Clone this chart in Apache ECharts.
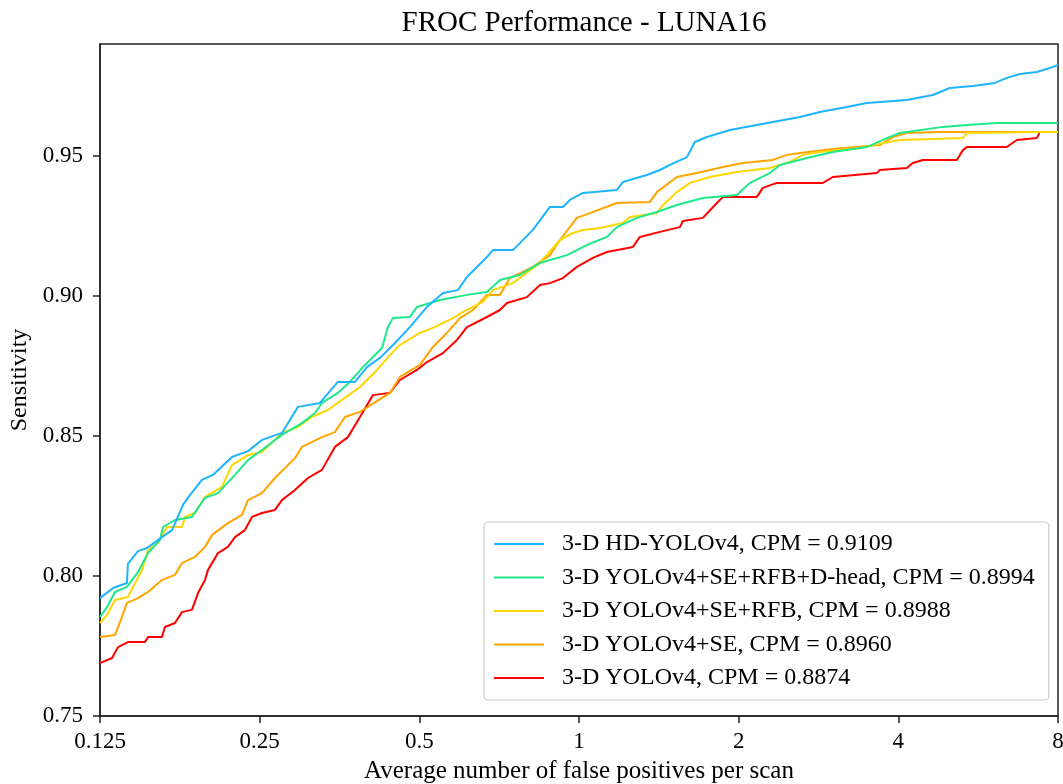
<!DOCTYPE html>
<html lang="en">
<head>
    <meta charset="UTF-8">
    <title>FROC Performance - LUNA16</title>
    <script src="https://cdn.jsdelivr.net/npm/echarts@6/dist/echarts.min.js"></script>
    <style>
        html, body { margin: 0; padding: 0; background: #fff; }
    </style>
</head>
<body>
    <div id="froc" style="width:1063px;height:784px;"></div>
<script>
    // x ticks (log2 axis) and y ticks
    var xTicks = [0.125, 0.25, 0.5, 1, 2, 4, 8];
    var yTicks = [0.75, 0.80, 0.85, 0.90, 0.95];

    var seriesNames = [
        '3-D HD-YOLOv4, CPM = 0.9109',
        '3-D YOLOv4+SE+RFB+D-head, CPM = 0.8994',
        '3-D YOLOv4+SE+RFB, CPM = 0.8988',
        '3-D YOLOv4+SE, CPM = 0.8960',
        '3-D YOLOv4, CPM = 0.8874'
    ];
    var seriesColors = ['#1eb4ff', '#1ee88c', '#ffd700', '#ffa500', '#ff0000'];

    // [false positives per scan, sensitivity]
    var hdYolo = [
        [0.125,0.7921],[0.1323,0.7957],[0.1405,0.7975],[0.1411,0.8043],[0.1474,0.8089],[0.1533,0.8100],
        [0.1636,0.8139],[0.1709,0.8164],[0.1792,0.8254],[0.1847,0.8289],[0.1946,0.8343],[0.2041,0.8361],
        [0.2217,0.8425],[0.2376,0.8446],[0.2525,0.8486],[0.2754,0.8511],[0.2952,0.8604],[0.3248,0.8618],
        [0.3511,0.8693],[0.3780,0.8693],[0.3983,0.8746],[0.4214,0.8779],[0.4459,0.8825],[0.4800,0.8889],
        [0.5168,0.8961],[0.5539,0.9011],[0.5912,0.9021],[0.6148,0.9068],[0.6705,0.9139],[0.6882,0.9164],
        [0.7506,0.9164],[0.8187,0.9236],[0.8814,0.9318],[0.9325,0.9318],[0.9613,0.9343],[1.0170,0.9368],
        [1.1788,0.9379],[1.2099,0.9407],[1.3428,0.9432],[1.4208,0.9450],[1.4839,0.9468],[1.5975,0.9496],
        [1.6539,0.9550],[1.7423,0.9568],[1.9251,0.9593],[2.6089,0.9639],[2.8455,0.9657],[3.1991,0.9675],
        [3.4893,0.9689],[4.1504,0.9700],[4.6464,0.9718],[5.0028,0.9743],[5.5278,0.9750],[6.0823,0.9761],
        [6.4070,0.9779],[6.7785,0.9793],[7.2978,0.9800],[7.7210,0.9814],[8,0.9825]
    ];
    var yoloSeRfbDh = [
        [0.125,0.7854],[0.1289,0.7889],[0.1334,0.7943],[0.1405,0.7961],[0.1474,0.8014],[0.1540,0.8082],
        [0.1622,0.8129],[0.1643,0.8175],[0.1731,0.8200],[0.1863,0.8211],[0.1972,0.8279],[0.2086,0.8296],
        [0.2246,0.8361],[0.2376,0.8414],[0.2525,0.8450],[0.2754,0.8504],[0.3004,0.8546],[0.3178,0.8582],
        [0.3276,0.8618],[0.3511,0.8654],[0.3699,0.8693],[0.3914,0.8746],[0.4251,0.8814],[0.4363,0.8889],
        [0.4459,0.8921],[0.4800,0.8925],[0.4948,0.8961],[0.5468,0.8986],[0.6148,0.9004],[0.6705,0.9014],
        [0.7094,0.9057],[0.7737,0.9075],[0.8440,0.9118],[0.9488,0.9146],[1.0349,0.9182],[1.1287,0.9211],
        [1.1788,0.9246],[1.2856,0.9279],[1.4024,0.9300],[1.5296,0.9325],[1.7123,0.9350],[1.9846,0.9361],
        [2.0996,0.9404],[2.2901,0.9439],[2.3919,0.9468],[2.6894,0.9493],[3.0106,0.9514],[3.4893,0.9532],
        [3.8058,0.9564],[4.0261,0.9582],[4.8529,0.9604],[5.3856,0.9611],[6.1353,0.9618],[8,0.9618]
    ];
    var yoloSeRfb = [
        [0.125,0.7832],[0.1289,0.7861],[0.1334,0.7914],[0.1411,0.7925],[0.1500,0.8021],[0.1540,0.8093],
        [0.1608,0.8118],[0.1672,0.8175],[0.1784,0.8175],[0.1808,0.8211],[0.1888,0.8225],[0.1972,0.8282],
        [0.2122,0.8318],[0.2217,0.8396],[0.2376,0.8432],[0.2525,0.8443],[0.2754,0.8511],[0.2952,0.8532],
        [0.3137,0.8568],[0.3362,0.8593],[0.3573,0.8629],[0.3864,0.8675],[0.4160,0.8736],[0.4401,0.8789],
        [0.4596,0.8825],[0.5013,0.8868],[0.5304,0.8886],[0.5785,0.8921],[0.6042,0.8943],[0.6590,0.8979],
        [0.6882,0.9021],[0.7506,0.9046],[0.8440,0.9118],[0.9205,0.9200],[0.9739,0.9225],[1.0170,0.9236],
        [1.0949,0.9243],[1.2099,0.9261],[1.2472,0.9282],[1.4024,0.9296],[1.4394,0.9325],[1.5296,0.9371],
        [1.6184,0.9404],[1.7651,0.9425],[1.9846,0.9443],[2.2901,0.9457],[2.4981,0.9479],[2.6431,0.9504],
        [2.8455,0.9514],[3.3847,0.9529],[3.7401,0.9546],[4.0261,0.9557],[5.2930,0.9564],[5.3856,0.9582],
        [7.3935,0.9586],[8,0.9586]
    ];
    var yoloSe = [
        [0.125,0.7782],[0.1334,0.7789],[0.1375,0.7854],[0.1405,0.7904],[0.1474,0.7921],[0.1540,0.7943],
        [0.1636,0.7986],[0.1731,0.8004],[0.1784,0.8046],[0.1888,0.8068],[0.1972,0.8104],[0.2032,0.8146],
        [0.2178,0.8189],[0.2315,0.8218],[0.2376,0.8271],[0.2525,0.8296],[0.2672,0.8350],[0.2914,0.8421],
        [0.3004,0.8461],[0.3276,0.8496],[0.3466,0.8514],[0.3620,0.8568],[0.3864,0.8586],[0.4401,0.8654],
        [0.4596,0.8711],[0.5013,0.8754],[0.5304,0.8818],[0.5636,0.8868],[0.5964,0.8921],[0.6310,0.8950],
        [0.6705,0.9004],[0.7094,0.9004],[0.7409,0.9064],[0.8187,0.9104],[0.8814,0.9146],[0.9205,0.9200],
        [0.9909,0.9279],[1.0485,0.9296],[1.1788,0.9332],[1.3604,0.9336],[1.4024,0.9371],[1.5296,0.9425],
        [1.6684,0.9439],[1.8675,0.9461],[2.0366,0.9475],[2.3201,0.9486],[2.4658,0.9504],[2.6089,0.9511],
        [3.0106,0.9525],[3.6918,0.9539],[3.9063,0.9568],[4.1504,0.9582],[4.7901,0.9586],[8,0.9586]
    ];
    var yoloBase = [
        [0.125,0.7689],[0.1317,0.7707],[0.1352,0.7746],[0.1411,0.7764],[0.1520,0.7764],[0.1540,0.7782],
        [0.1636,0.7782],[0.1657,0.7818],[0.1731,0.7832],[0.1784,0.7871],[0.1863,0.7879],[0.1913,0.7939],
        [0.1972,0.7986],[0.1997,0.8021],[0.2086,0.8082],[0.2178,0.8104],[0.2246,0.8139],[0.2345,0.8164],
        [0.2418,0.8211],[0.2525,0.8225],[0.2672,0.8236],[0.2754,0.8271],[0.2914,0.8307],[0.3083,0.8350],
        [0.3276,0.8379],[0.3466,0.8461],[0.3667,0.8496],[0.3864,0.8568],[0.4088,0.8646],[0.4401,0.8654],
        [0.4596,0.8700],[0.4948,0.8736],[0.5168,0.8764],[0.5539,0.8796],[0.5887,0.8843],[0.6148,0.8889],
        [0.6705,0.8925],[0.7094,0.8950],[0.7313,0.8975],[0.7977,0.8996],[0.8440,0.9039],[0.8814,0.9046],
        [0.9325,0.9064],[0.9909,0.9104],[1.0622,0.9136],[1.1287,0.9157],[1.2635,0.9175],[1.3025,0.9211],
        [1.4208,0.9229],[1.5496,0.9246],[1.5700,0.9268],[1.7123,0.9279],[1.8196,0.9332],[1.8675,0.9354],
        [2.1645,0.9354],[2.2215,0.9386],[2.3609,0.9404],[2.8829,0.9404],[3.0106,0.9425],[3.6440,0.9439],
        [3.6918,0.9450],[4.1504,0.9457],[4.2599,0.9475],[4.4488,0.9486],[5.1569,0.9486],[5.2930,0.9521],
        [5.3856,0.9532],[6.4070,0.9532],[6.6909,0.9557],[7.2978,0.9564],[7.3935,0.9586],[8,0.9586]
    ];
    var curves = [hdYolo, yoloSeRfbDh, yoloSeRfb, yoloSe, yoloBase];

    var fontFam = '"Liberation Serif", "Times New Roman", serif';
    var axisColor = '#222';

    var chart = echarts.init(document.getElementById('froc'));

    var series = [];
    for (var i = 0; i < curves.length; i++) {
        series.push({
            name: seriesNames[i],
            type: 'line',
            data: curves[i],
            symbol: 'none',
            lineStyle: { color: seriesColors[i], width: 2 },
            itemStyle: { color: seriesColors[i] },
            z: 10 - i
        });
    }

    var option = {
        backgroundColor: '#fff',
        animation: false,
        title: {
            text: 'FROC Performance - LUNA16',
            left: 579,
            textAlign: 'center',
            top: 4,
            textStyle: { fontFamily: fontFam, fontSize: 29, fontWeight: 'normal', color: '#000' }
        },
        grid: {
            left: 100, right: 5, top: 44, bottom: 68,
            containLabel: false,
            outerBoundsMode: 'none',
            show: true, borderColor: axisColor, borderWidth: 1.5, backgroundColor: 'transparent'
        },
        legend: {
            orient: 'vertical',
            left: 484, top: 522,
            padding: [10, 14, 10, 10],
            backgroundColor: '#fff',
            borderColor: '#cccccc', borderWidth: 1.2, borderRadius: 4,
            icon: 'rect',
            itemWidth: 50, itemHeight: 2,
            itemGap: 9.5,
            textStyle: { fontFamily: fontFam, fontSize: 24, lineHeight: 24, color: '#000', padding: [0, 0, 0, 13] },
            data: seriesNames
        },
        xAxis: {
            type: 'log', logBase: 2,
            min: xTicks[0], max: xTicks[xTicks.length - 1],
            name: 'Average number of false positives per scan',
            nameLocation: 'middle', nameGap: 43,
            nameTextStyle: { fontFamily: fontFam, fontSize: 25, color: '#000' },
            axisLine: { lineStyle: { color: axisColor, width: 1.5 } },
            axisTick: { show: true, length: 7, inside: false, lineStyle: { color: axisColor, width: 1.5 } },
            minorTick: { show: false },
            splitLine: { show: false },
            axisLabel: {
                fontFamily: fontFam, fontSize: 23, color: '#000', margin: 14,
                formatter: function (v) { return String(+v.toPrecision(4)); }
            }
        },
        yAxis: {
            type: 'value',
            min: 0.75, max: 0.99, interval: 0.05,
            name: 'Sensitivity',
            nameLocation: 'middle', nameGap: 68,
            nameTextStyle: { fontFamily: fontFam, fontSize: 24, color: '#000' },
            axisLine: { show: true, lineStyle: { color: axisColor, width: 1.5 } },
            axisTick: { show: true, length: 7, inside: false, lineStyle: { color: axisColor, width: 1.5 } },
            splitLine: { show: false },
            axisLabel: {
                fontFamily: fontFam, fontSize: 23, color: '#000', margin: 17,
                showMaxLabel: false,
                formatter: function (v) { return yTicks.indexOf(+v.toFixed(2)) >= 0 ? v.toFixed(2) : ''; }
            }
        },
        series: series
    };
    chart.setOption(option);
</script>
</body>
</html>
